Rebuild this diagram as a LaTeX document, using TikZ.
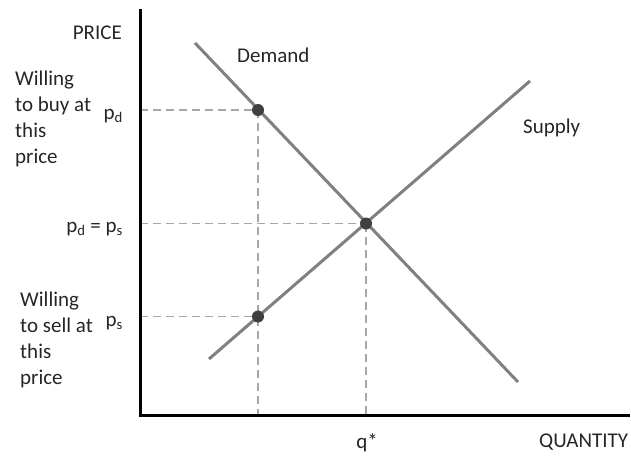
\documentclass[tikz,border=0pt]{standalone}
\usepackage{fontspec}
\setmainfont{Carlito}
\usetikzlibrary{calc}

\begin{document}
\begin{tikzpicture}[x=1pt,y=-1pt,font=\fontsize{21}{26}\selectfont,
   axis/.style={line width=3pt,line join=miter},
   curve/.style={line width=3pt,draw=black!50},
   guide/.style={line width=1.5pt,draw=black!35,dash pattern=on 8pt off 5pt},
   dot/.style={circle,fill=black!75,inner sep=0pt,minimum size=12pt},
   lbl/.style={inner sep=0pt,text=black!85}]
  \useasboundingbox (0,0) rectangle (631,455);
  % axes and curve ends
  \coordinate (o) at (140,415);
  \coordinate (ytop) at (140,9);
  \coordinate (xend) at (630,415);
  \coordinate (d1) at (195,43);
  \coordinate (d2) at (518,382);
  \coordinate (s1) at (209,359);
  \coordinate (s2) at (530,81);
  \coordinate (pd) at (258,110);
  \coordinate (eq) at (366,223.5);
  \coordinate (ps) at (258,316.5);
  % guide lines
  \foreach \p in {pd,eq,ps}{\draw[guide] (\p -| o) -- (\p);}
  \foreach \p in {pd,eq}{\draw[guide] (\p) -- (\p |- o);}
  \draw[curve] (d1) -- (d2);
  \draw[curve] (s1) -- (s2);
  \draw[axis] (ytop) -- (o) -- (xend);
  \foreach \p in {pd,eq,ps}{\node[dot] (\p dot) at (\p) {};}
  % labels
  \node[lbl,anchor=base east] (price) at (122,39) {PRICE};
  \node[lbl,anchor=base west] (demand) at (237,62) {Demand};
  \node[lbl,anchor=base west] (supply) at (523,133) {Supply};
  \node[lbl,anchor=base east] (pdlbl) at (123,119) {p\textsubscript{d}};
  \node[lbl,anchor=base east] (eqlbl) at (123,232) {p\textsubscript{d} = p\textsubscript{s}};
  \node[lbl,anchor=base east] (pslbl) at (123,326) {p\textsubscript{s}};
  \node[lbl,anchor=base] (qlbl) at (367,448) {q*};
  \node[lbl,anchor=base west] (qty) at (539,447) {QUANTITY};
  \node[lbl,align=left,anchor=north west] (buy) at (15,71) {Willing\\to buy at\\this\\price};
  \node[lbl,align=left,anchor=north west] (sell) at (20,292) {Willing\\to sell at\\this\\price};
\end{tikzpicture}
\end{document}
